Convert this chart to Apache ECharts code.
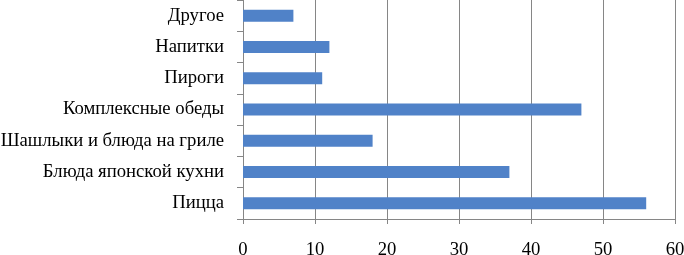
<!DOCTYPE html>
<html>
<head>
<meta charset="utf-8">
<script src="https://cdn.jsdelivr.net/npm/echarts@6/dist/echarts.min.js"></script>
<style>
html,body{margin:0;padding:0;background:#fff;}
#c{width:684px;height:255px;}
</style>
</head>
<body>
<div id="c"></div>
<script>
const categories = ['Пицца', 'Блюда японской кухни', 'Шашлыки и блюда на гриле', 'Комплексные обеды', 'Пироги', 'Напитки', 'Другое'];
const values = [56, 37, 18, 47, 11, 12, 7];
const xTicks = [0, 10, 20, 30, 40, 50, 60];

const chart = echarts.init(document.getElementById('c'), null, {renderer: 'canvas'});
const font = '"Liberation Serif", "Times New Roman", serif';
chart.setOption({
  animation: false,
  backgroundColor: '#ffffff',
  grid: {left: 243, right: 9, top: 0, bottom: 36, containLabel: false, outerBoundsMode: 'none'},
  xAxis: {
    type: 'value',
    min: xTicks[0],
    max: xTicks[xTicks.length - 1],
    interval: 10,
    axisLine: {show: true, lineStyle: {color: '#868686', width: 1}},
    axisTick: {show: true, length: 5, lineStyle: {color: '#868686'}},
    splitLine: {show: true, lineStyle: {color: '#868686', width: 1}},
    axisLabel: {color: '#000', fontFamily: font, fontSize: 18.7, margin: 22}
  },
  yAxis: {
    type: 'category',
    data: categories,
    axisLine: {show: true, lineStyle: {color: '#868686', width: 1}},
    axisTick: {show: true, length: 6, lineStyle: {color: '#868686'}},
    splitLine: {show: false},
    axisLabel: {color: '#000', fontFamily: font, fontSize: 18.7, margin: 19}
  },
  series: [{
    type: 'bar',
    data: values,
    barWidth: 12,
    itemStyle: {color: '#5082c8'}
  }]
});
</script>
</body>
</html>
